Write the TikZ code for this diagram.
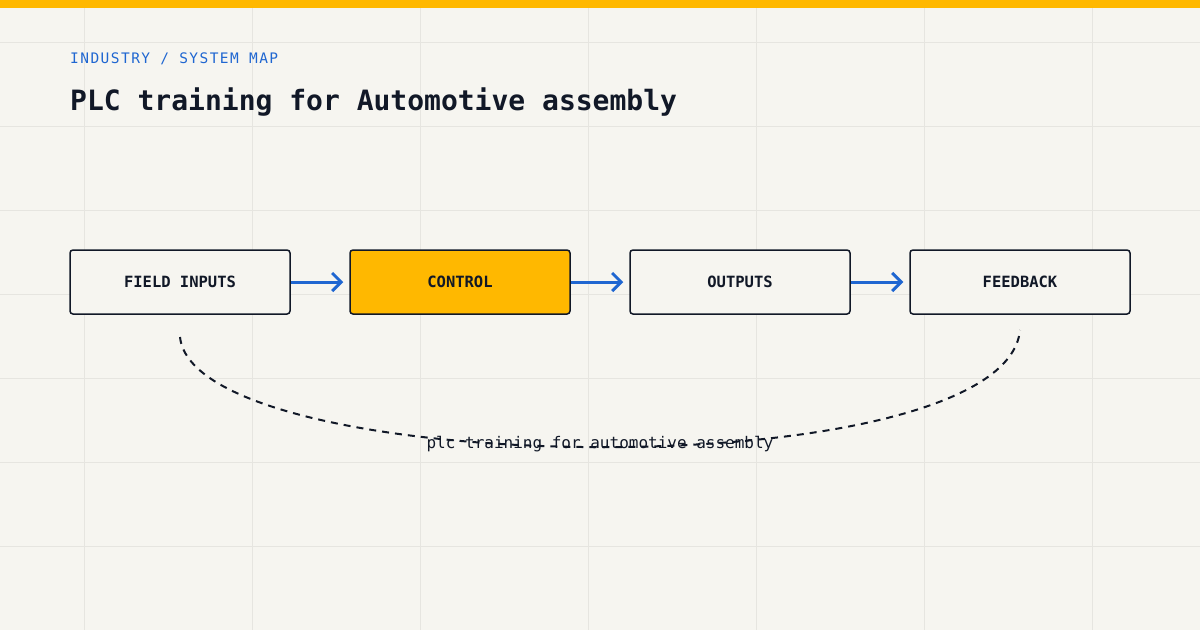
\documentclass[tikz,border=0pt]{standalone}
\usepackage{fontspec}
\setmonofont{DejaVu Sans Mono}
\usetikzlibrary{arrows.meta}
\definecolor{bg}{HTML}{F6F5F0}
\definecolor{grid}{HTML}{E6E5E0}
\definecolor{accent}{HTML}{FFB800}
\definecolor{ink}{HTML}{111827}
\definecolor{blue}{HTML}{1F66D1}
\begin{document}
\begin{tikzpicture}[x=1pt,y=-1pt,
  box/.style={draw=ink,line width=1.5pt,rounded corners=3pt,minimum width=220pt,minimum height=64pt,fill=bg,font=\ttfamily\bfseries\fontsize{15.5}{18}\selectfont,text=ink},
  arr/.style={draw=blue,line width=3pt,-{Straight Barb[length=9pt,width=18pt,line width=3pt]}}]
\fill[bg] (0,0) rectangle (1200,630);
\useasboundingbox (0,0) rectangle (1200,630);
\foreach \x in {84,252,420,588,756,924,1092} \draw[grid,line width=1pt] (\x,0) -- (\x,630);
\foreach \y in {42,126,210,294,378,462,546} \draw[grid,line width=1pt] (0,\y) -- (1200,\y);
\fill[accent] (0,0) rectangle (1200,8);
\node[anchor=west,inner sep=0pt,text=blue,font=\ttfamily\fontsize{14.5}{17}\selectfont\addfontfeature{LetterSpace=10}] (kick) at (70,59) {INDUSTRY / SYSTEM MAP};
\node[anchor=west,inner sep=0pt,text=ink,font=\ttfamily\bfseries\fontsize{28}{32}\selectfont] (title) at (70,102) {PLC training for Automotive assembly};
\node[box] (a) at (180,282) {FIELD INPUTS};
\node[box,fill=accent] (b) at (460,282) {CONTROL};
\node[box] (c) at (740,282) {OUTPUTS};
\node[box] (d) at (1020,282) {FEEDBACK};
\draw[arr] (a.east) -- ([xshift=-6pt]b.west);
\draw[arr] (b.east) -- ([xshift=-6pt]c.west);
\draw[arr] (c.east) -- ([xshift=-6pt]d.west);
\coordinate (s) at (180,337);
\coordinate (e) at (1020,330);
\draw[ink,line width=2pt,dash pattern=on 7pt off 6pt] (s) .. controls (195,480) and (1005,490) .. (e);
\node[text=ink,font=\ttfamily\fontsize{16}{19}\selectfont] (lbl) at (600,444) {plc training for automotive assembly};
\end{tikzpicture}
\end{document}
